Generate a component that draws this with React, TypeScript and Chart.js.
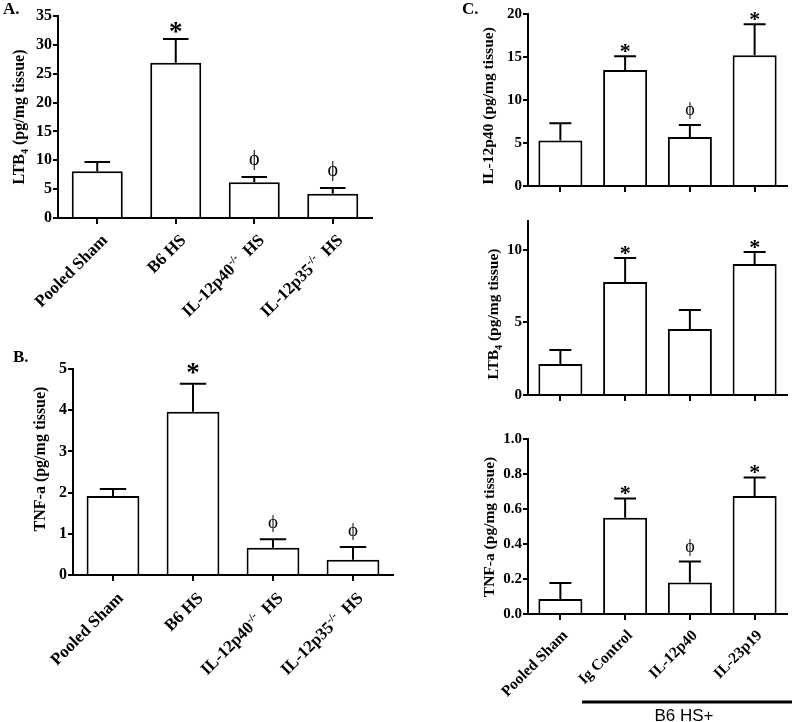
import React, { useEffect, useRef } from "react";
import { Chart, registerables } from "chart.js";

Chart.register(...registerables);

const SERIF = '"Liberation Serif", "Times New Roman", serif';
const SANS = '"Liberation Sans", Arial, sans-serif';

// ---------- data ----------
// ^..^ marks superscript, _.._ marks subscript
const categoriesAB = ["Pooled Sham", "B6 HS", "IL-12p40^-/-^  HS", "IL-12p35^-/-^  HS"];
const ltb4A = [8.1, 26.9, 6.2, 4.2];
const ltb4AErr = [1.6, 4.1, 0.9, 1.0];
const marksA = ["", "*", "ϕ", "ϕ"];

const tnfB = [1.92, 3.96, 0.66, 0.37];
const tnfBErr = [0.17, 0.68, 0.21, 0.31];
const marksB = ["", "*", "ϕ", "ϕ"];

const categoriesC = ["Pooled Sham", "Ig Control", "IL-12p40", "IL-23p19"];
const il12p40C = [5.3, 13.5, 5.7, 15.2];
const il12p40CErr = [2.0, 1.6, 1.4, 3.6];
const marksC1 = ["", "*", "ϕ", "*"];

const ltb4C = [2.14, 7.8, 4.55, 9.03];
const ltb4CErr = [0.97, 1.65, 1.31, 0.83];
const marksC2 = ["", "*", "", "*"];

const tnfC = [0.086, 0.55, 0.18, 0.674];
const tnfCErr = [0.091, 0.11, 0.12, 0.106];
const marksC3 = ["", "*", "ϕ", "*"];

const groupLabel = "B6 HS+";

// ---------- helpers ----------
type Part = { t: string; m: "n" | "sup" | "sub" };
function parseRich(s: string): Part[] {
  const parts: Part[] = [];
  let mode: "n" | "sup" | "sub" = "n";
  let buf = "";
  for (const ch of s) {
    if (ch === "^" || ch === "_") {
      if (buf) parts.push({ t: buf, m: mode });
      buf = "";
      mode = mode === "n" ? (ch === "^" ? "sup" : "sub") : "n";
    } else buf += ch;
  }
  if (buf) parts.push({ t: buf, m: mode });
  return parts;
}

function drawRich(ctx: CanvasRenderingContext2D, text: string, size: number, weight: string, x: number, y: number, align: "left" | "right" | "center") {
  const parts = parseRich(text);
  const fontOf = (m: string) => `${weight} ${m === "n" ? size : Math.round(size * 0.62)}px ${SERIF}`;
  ctx.textAlign = "left";
  ctx.textBaseline = "alphabetic";
  let total = 0;
  const widths = parts.map((p) => {
    ctx.font = fontOf(p.m);
    const w = ctx.measureText(p.t).width;
    total += w;
    return w;
  });
  let cx = align === "right" ? x - total : align === "center" ? x - total / 2 : x;
  parts.forEach((p, i) => {
    ctx.font = fontOf(p.m);
    const dy = p.m === "sup" ? -size * 0.38 : p.m === "sub" ? size * 0.22 : 0;
    ctx.fillText(p.t, cx, y + dy);
    cx += widths[i];
  });
}

type PanelCfg = {
  x: number; y: number; w: number; h: number;
  area: { l: number; t: number; r: number; b: number };
  cats: string[]; values: number[]; errs: number[]; marks: string[];
  max: number; step: number; decimals: number;
  title: string; titleX: number; titleY: number; titleSize: number;
  tickSize: number; labelSize: number; showLabels: boolean; labelDx: number; labelDy: number;
  barPct: number; starSize: number; starGap: number; phiSize: number; phiGap: number;
  letter?: string; letterX?: number; letterY?: number; letterSize?: number;
  group?: boolean;
};

const YW = 40;
const XH = 8;

const panels: PanelCfg[] = [
  {
    x: 0, y: 0, w: 400, h: 340, area: { l: 58, t: 16, r: 372, b: 218 },
    cats: categoriesAB, values: ltb4A, errs: ltb4AErr, marks: marksA,
    max: 35, step: 5, decimals: 0,
    title: "LTB_4_ (pg/mg tissue)", titleX: 19, titleY: 117, titleSize: 16,
    tickSize: 16, labelSize: 17, showLabels: true, labelDx: 11, labelDy: 23,
    barPct: 0.65, starSize: 27, starGap: -1, phiSize: 20, phiGap: 12,
    letter: "A.", letterX: 3, letterY: 14, letterSize: 17,
  },
  {
    x: 0, y: 340, w: 420, h: 382, area: { l: 73, t: 369, r: 393, b: 575 },
    cats: categoriesAB, values: tnfB, errs: tnfBErr, marks: marksB,
    max: 5, step: 1, decimals: 0,
    title: "TNF-a (pg/mg tissue)", titleX: 40, titleY: 459, titleSize: 16,
    tickSize: 16, labelSize: 17, showLabels: true, labelDx: 11, labelDy: 24,
    barPct: 0.66, starSize: 27, starGap: 3, phiSize: 19, phiGap: 11,
    letter: "B.", letterX: 13, letterY: 362, letterSize: 17,
  },
  {
    x: 455, y: 0, w: 338, h: 205, area: { l: 528, t: 14, r: 787, b: 186 },
    cats: categoriesC, values: il12p40C, errs: il12p40CErr, marks: marksC1,
    max: 20, step: 5, decimals: 0,
    title: "IL-12p40 (pg/mg tissue)", titleX: 488, titleY: 106, titleSize: 15.5,
    tickSize: 15, labelSize: 15.5, showLabels: false, labelDx: 8, labelDy: 22,
    barPct: 0.68, starSize: 22, starGap: -2, phiSize: 18, phiGap: 10,
    letter: "C.", letterX: 462, letterY: 14, letterSize: 17,
  },
  {
    x: 455, y: 205, w: 338, h: 215, area: { l: 528, t: 221, r: 787, b: 395 },
    cats: categoriesC, values: ltb4C, errs: ltb4CErr, marks: marksC2,
    max: 12, step: 5, decimals: 0,
    title: "LTB_4_ (pg/mg tissue)", titleX: 493, titleY: 314, titleSize: 15.5,
    tickSize: 15, labelSize: 15.5, showLabels: false, labelDx: 8, labelDy: 22,
    barPct: 0.68, starSize: 22, starGap: -2, phiSize: 18, phiGap: 10,
  },
  {
    x: 455, y: 420, w: 338, h: 302, area: { l: 528, t: 439, r: 787, b: 614 },
    cats: categoriesC, values: tnfC, errs: tnfCErr, marks: marksC3,
    max: 1.0, step: 0.2, decimals: 1,
    title: "TNF-a (pg/mg tissue)", titleX: 489, titleY: 527, titleSize: 15.5,
    tickSize: 15, labelSize: 15.5, showLabels: true, labelDx: 8, labelDy: 22,
    barPct: 0.68, starSize: 22, starGap: -1, phiSize: 18, phiGap: 10,
    group: true,
  },
];

function Panel({ cfg }: { cfg: PanelCfg }) {
  const ref = useRef<HTMLCanvasElement>(null);
  useEffect(() => {
    const c = cfg;
    const ox = c.x;
    const oy = c.y;
    const padding = {
      left: c.area.l - c.x - YW,
      top: c.area.t - c.y,
      right: c.x + c.w - c.area.r,
      bottom: c.y + c.h - c.area.b - XH,
    };
    const deco = {
      id: "deco",
      afterDatasetsDraw(chart: any) {
        const ctx: CanvasRenderingContext2D = chart.ctx;
        const meta = chart.getDatasetMeta(0);
        const ys = chart.scales.y;
        ctx.save();
        ctx.strokeStyle = "#000";
        ctx.fillStyle = "#000";
        ctx.lineWidth = 2;
        meta.data.forEach((bar: any, i: number) => {
          const v = c.values[i];
          const e = c.errs[i];
          const capY = ys.getPixelForValue(v + e);
          const cw = bar.width * 0.5;
          ctx.beginPath();
          ctx.moveTo(bar.x, bar.y);
          ctx.lineTo(bar.x, capY);
          ctx.moveTo(bar.x - cw / 2, capY);
          ctx.lineTo(bar.x + cw / 2, capY);
          ctx.stroke();
          const m = c.marks[i];
          if (m) {
            ctx.textAlign = "center";
            ctx.textBaseline = "alphabetic";
            if (m === "*") {
              ctx.font = `bold ${c.starSize}px ${SERIF}`;
              ctx.fillText(m, bar.x, capY - c.starGap);
            } else {
              ctx.font = `normal ${c.phiSize}px ${SERIF}`;
              ctx.fillText(m, bar.x, capY - c.phiGap);
            }
          }
        });
        ctx.restore();
      },
      afterDraw(chart: any) {
        const ctx: CanvasRenderingContext2D = chart.ctx;
        const xs = chart.scales.x;
        const ca = chart.chartArea;
        ctx.save();
        ctx.fillStyle = "#000";
        ctx.strokeStyle = "#000";
        if (c.showLabels) {
          c.cats.forEach((lab, i) => {
            const tx = xs.getPixelForTick(i);
            ctx.save();
            ctx.translate(tx + c.labelDx, ca.bottom + c.labelDy);
            ctx.rotate(-Math.PI / 4);
            drawRich(ctx, lab, c.labelSize, "bold", 0, 0, "right");
            ctx.restore();
          });
        }
        // y title
        ctx.save();
        ctx.translate(c.titleX - ox, c.titleY - oy);
        ctx.rotate(-Math.PI / 2);
        drawRich(ctx, c.title, c.titleSize, "bold", 0, c.titleSize * 0.33, "center");
        ctx.restore();
        if (c.letter) {
          ctx.font = `bold ${c.letterSize}px ${SERIF}`;
          ctx.textAlign = "left";
          ctx.textBaseline = "alphabetic";
          ctx.fillText(c.letter, (c.letterX as number) - ox, (c.letterY as number) - oy);
        }
        if (c.group) {
          ctx.lineWidth = 3;
          ctx.beginPath();
          ctx.moveTo(582 - ox, 702 - oy);
          ctx.lineTo(792 - ox, 702 - oy);
          ctx.stroke();
          ctx.font = `normal 17px ${SANS}`;
          ctx.textAlign = "center";
          ctx.textBaseline = "alphabetic";
          ctx.fillText(groupLabel, 684 - ox, 721 - oy);
        }
        ctx.restore();
      },
    };
    const chart = new Chart(ref.current as HTMLCanvasElement, {
      type: "bar",
      data: {
        labels: c.cats,
        datasets: [
          {
            data: c.values,
            backgroundColor: "#ffffff",
            borderColor: "#000000",
            borderWidth: 2,
            categoryPercentage: 1,
            barPercentage: c.barPct,
          },
        ],
      },
      options: {
        responsive: false,
        animation: false,
        devicePixelRatio: 1,
        layout: { padding },
        plugins: { legend: { display: false }, tooltip: { enabled: false } },
        scales: {
          x: {
            grid: { display: true, drawOnChartArea: false, offset: false, tickLength: 6, lineWidth: 2, color: "#000" },
            border: { display: true, width: 2, color: "#000" },
            ticks: { display: false },
            afterFit: (s: any) => { s.height = XH; },
          },
          y: {
            min: 0,
            max: c.max,
            grid: { drawOnChartArea: false, tickLength: 5, lineWidth: 2, color: "#000" },
            border: { display: true, width: 2, color: "#000" },
            ticks: {
              stepSize: c.step,
              color: "#000",
              padding: 1,
              font: { family: SERIF, size: c.tickSize, weight: "bold" },
              callback: (v: any) => Number(v).toFixed(c.decimals),
            },
            afterBuildTicks: (s: any) => {
              s.ticks = s.ticks.filter((t: any) => {
                const r = t.value / c.step;
                return Math.abs(r - Math.round(r)) < 1e-6;
              });
            },
            afterFit: (s: any) => { s.width = YW; },
          },
        },
      } as any,
      plugins: [deco],
    });
    return () => chart.destroy();
  }, [cfg]);
  return (
    <canvas
      ref={ref}
      width={cfg.w}
      height={cfg.h}
      style={{ position: "absolute", left: cfg.x, top: cfg.y, width: cfg.w, height: cfg.h }}
    />
  );
}

export default function App() {
  return (
    <div style={{ position: "absolute", left: 0, top: 0, width: 793, height: 722, background: "#fff", overflow: "hidden" }}>
      {panels.map((p, i) => (
        <Panel key={i} cfg={p} />
      ))}
    </div>
  );
}
